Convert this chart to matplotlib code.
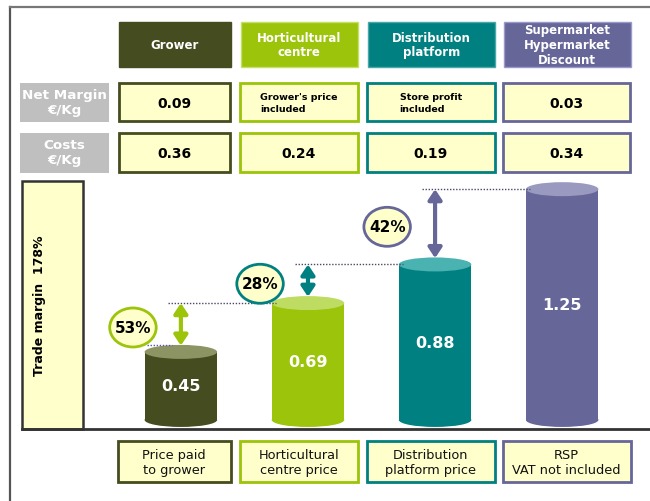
import matplotlib
matplotlib.use("Agg")
import matplotlib.pyplot as plt
from matplotlib.patches import Rectangle, Ellipse, FancyArrowPatch

# ---------------- data ----------------
stages = ["Grower", "Horticultural\ncentre", "Distribution\nplatform",
          "Supermarket\nHypermarket\nDiscount"]
net_margin_labels = ["0.09", "Grower's price\nincluded", "Store profit\nincluded", "0.03"]
costs_labels = ["0.36", "0.24", "0.19", "0.34"]
prices = [0.45, 0.69, 0.88, 1.25]
increase_labels = ["53%", "28%", "42%"]
price_labels = ["Price paid\nto grower", "Horticultural\ncentre price",
                "Distribution\nplatform price", "RSP\nVAT not included"]
trade_margin_label = "Trade margin  178%"
row_labels = ["Net Margin\n€/Kg", "Costs\n€/Kg"]

# ---------------- style ----------------
body_colors = ["#454C1F", "#9BC40A", "#008080", "#666699"]
top_colors = ["#8B9462", "#BEDC62", "#4BB2B2", "#9A9AC0"]
head_edge = ["#454C1F", "#C4E06A", "#4BA8A8", "#9999CC"]
arrow_colors = ["#9BC40A", "#008080", "#666699"]
circle_edges = ["#9BC40A", "#008080", "#666699"]
YELLOW = "#FFFFCC"
GRAY = "#BFBFBF"
DARK = "#333333"
DOT = "#4A4A66"
FONT = "DejaVu Sans"

W, H = 650, 502
fig = plt.figure(figsize=(6.5, 5.02), dpi=100)
ax = fig.add_axes([0, 0, 1, 1])
ax.set_xlim(0, W)
ax.set_ylim(H, 0)
ax.axis("off")

# column extents (pixels) and row extents
cols = [(117.5, 231.0), (239.0, 358.5), (366.0, 495.5), (502.0, 631.0)]
head_row = (22.5, 67.7)
net_row = (82.7, 123.3)
cost_row = (132.7, 174.3)
bottom_row = (441.7, 483.3)


def box(x0, x1, y0, y1, fc, ec, lw, z=2):
    ax.add_patch(Rectangle((x0, y0), x1 - x0, y1 - y0, facecolor=fc,
                           edgecolor=ec, linewidth=lw, zorder=z))


# frame
ax.plot([10.4, 10.4], [7.5, H], color="#555555", lw=1.6, zorder=1)
ax.plot([10.4, W], [7.5, 7.5], color="#777777", lw=1.6, zorder=1)

# header boxes
for (x0, x1), name, c, ec in zip(cols, stages, body_colors, head_edge):
    box(x0 + 1.5, x1 - 0.5, head_row[0], head_row[1], c, ec, 1.0)
    n_lines = name.count("\n") + 1
    ax.text((x0 + x1) / 2 + 0.5, (head_row[0] + head_row[1]) / 2 + 0.5, name,
            ha="center", va="center", color="white", fontsize=8.5,
            fontweight="bold", family=FONT, linespacing=1.2 if n_lines == 3 else 1.15,
            zorder=3)

# row label boxes
for (y0, y1), lab in zip([net_row, cost_row], row_labels):
    box(19.5, 109.0, y0 + 0.8, y1 - 0.8, GRAY, "none", 0)
    ax.text(64.3, (y0 + y1) / 2, lab, ha="center", va="center", color="white",
            fontsize=9.7, fontweight="bold", family=FONT, linespacing=1.2, zorder=3)

# value rows
for (x0, x1), c, nm, cs in zip(cols, body_colors, net_margin_labels, costs_labels):
    for (y0, y1), lab in zip([net_row, cost_row], [nm, cs]):
        box(x0 + 1, x1 - 1, y0 + 1, y1 - 1, YELLOW, c, 2.0)
        small = "\n" in lab
        ax.text((x0 + x1) / 2, (y0 + y1) / 2 + 0.5, lab, ha="center", va="center",
                ma="left", color="black", fontsize=6.8 if small else 10,
                fontweight="bold", family=FONT, linespacing=1.3, zorder=3)

# bottom label boxes
for (x0, x1), c, lab in zip(cols, body_colors, price_labels):
    box(x0 + 0.5, x1 - 0.5, bottom_row[0], bottom_row[1], YELLOW, c, 2.0)
    ax.text((x0 + x1) / 2, (bottom_row[0] + bottom_row[1]) / 2 + 0.5, lab,
            ha="center", va="center", color="#111111", fontsize=9.3,
            family=FONT, linespacing=1.2, zorder=3)

# trade margin box + base line
box(21.6, 82.9, 181.7, 430.0, YELLOW, DARK, 1.8, z=2)
ax.text(39.5, 306, trade_margin_label, rotation=90, ha="center", va="center",
        fontsize=9, fontweight="bold", family=FONT, color="black", zorder=3)
ax.plot([21.6, W], [430, 430], color=DARK, lw=2.0, zorder=3)

# ---------------- cylinders on a value axis ----------------
bx_l, bx_r, bx_t, bx_b = 83.0, 650.0, 180.0, 430.0
bx = fig.add_axes([bx_l / W, 1 - bx_b / H, (bx_r - bx_l) / W, (bx_b - bx_t) / H])
bx.set_xlim(-0.770, 3.691)
bx.set_ylim(0.071, 1.300)
bx.axis("off")
bx.patch.set_alpha(0)

px_x = (bx_r - bx_l) / (3.691 + 0.770)
px_y = (bx_b - bx_t) / (1.300 - 0.071)
bw = 72.5 / px_x          # bar width
eh = 14.0 / px_y          # ellipse full height
base = 0.1155             # floor level of the cylinders

for i, (v, c, ct) in enumerate(zip(prices, body_colors, top_colors)):
    bx.add_patch(Ellipse((i, base), bw, eh, facecolor=c, edgecolor="none", zorder=2))
    bx.add_patch(Rectangle((i - bw / 2, base), bw, v - base, facecolor=c,
                           edgecolor="none", zorder=2))
    bx.add_patch(Ellipse((i, v), bw, eh, facecolor=ct, edgecolor="none", zorder=3))
    bx.text(i, (base + v) / 2, f"{v:.2f}", ha="center", va="center", color="white",
            fontsize=11.5, fontweight="bold", family=FONT, zorder=4)

# small dotted mark at grower top
bx.plot([-bw / 2 + 0.02, -0.07], [prices[0] + eh / 2] * 2, ls=(0, (1, 1.2)),
        color="#5555AA", lw=1.0, zorder=5)

for i in range(3):
    v0, v1 = prices[i], prices[i + 1]
    # dotted level line
    bx.plot([i - 0.1, i + 1 - bw / 2 + 0.03], [v1, v1], ls=(0, (1, 1.2)),
            color=DOT, lw=1.0, zorder=5)
    # double arrow
    arr = FancyArrowPatch((i, v0 + eh * 0.45), (i, v1),
                          arrowstyle="<|-|>,head_length=0.3,head_width=0.2",
                          mutation_scale=20, color=arrow_colors[i], lw=3.0,
                          shrinkA=0, shrinkB=0, zorder=6)
    bx.add_patch(arr)
    # percent bubble
    cx, cy = i - 0.377, (v0 + v1) / 2
    bx.add_patch(Ellipse((cx, cy), 46.5 / px_x, 39.0 / px_y, facecolor=YELLOW,
                         edgecolor=circle_edges[i], lw=2.0, zorder=6))
    bx.text(cx, cy, increase_labels[i], ha="center", va="center", fontsize=11,
            fontweight="bold", family=FONT, color="black", zorder=7)

fig.savefig("out.png", dpi=100)
